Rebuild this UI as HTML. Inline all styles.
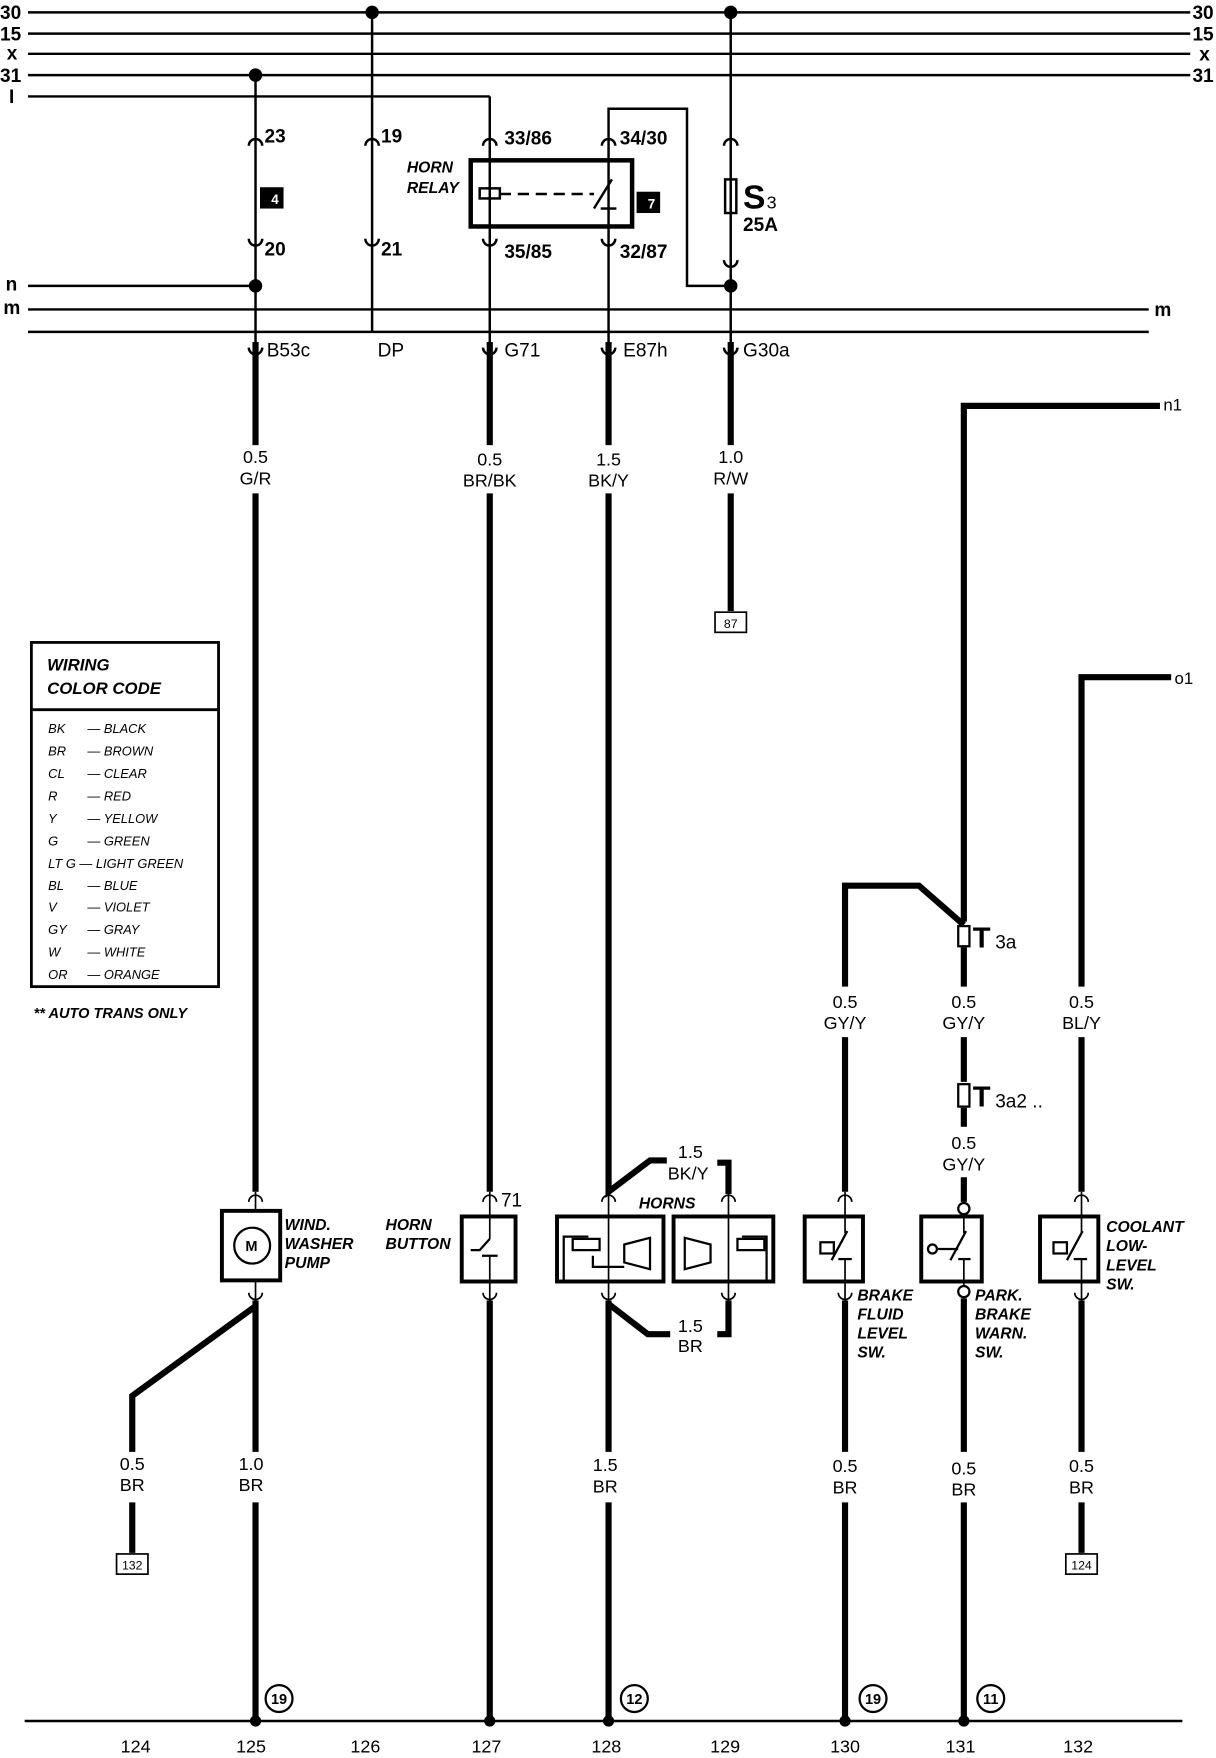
<!DOCTYPE html>
<html><head><meta charset="utf-8"><style>
html,body{margin:0;padding:0;background:#fff;}
svg{display:block;}
text{font-family:"Liberation Sans",Arial,sans-serif;fill:#000;}
.b{font-weight:bold;}
.bi{font-weight:bold;font-style:italic;}
</style></head><body>
<svg width="1216" height="1758" viewBox="0 0 1085 1568" preserveAspectRatio="none" xmlns="http://www.w3.org/2000/svg">
<g stroke="#000" fill="none" stroke-width="2.2">
<line x1="25" y1="11" x2="1062" y2="11"/>
<line x1="25" y1="30" x2="1062" y2="30"/>
<line x1="25" y1="48" x2="1062" y2="48"/>
<line x1="25" y1="67" x2="1062" y2="67"/>
<line x1="25" y1="86" x2="437" y2="86"/>
<line x1="25" y1="255" x2="228" y2="255"/>
<line x1="25" y1="276" x2="1025" y2="276"/>
<line x1="25" y1="296" x2="1025" y2="296"/>
<line x1="22" y1="1535" x2="1055" y2="1535"/>
<line x1="228" y1="67" x2="228" y2="305"/>
<line x1="332" y1="11" x2="332" y2="296"/>
<line x1="437" y1="86" x2="437" y2="305"/>
<polyline points="543,305 543,97 613,97 613,255 652,255"/>
<line x1="652" y1="11" x2="652" y2="305"/>
<path d="M222,130 A6,6 0 0 1 234,130"/><path d="M222,213 A6,6 0 0 0 234,213"/>
<path d="M326,130 A6,6 0 0 1 338,130"/><path d="M326,213 A6,6 0 0 0 338,213"/>
<path d="M431,130 A6,6 0 0 1 443,130"/><path d="M431,213 A6,6 0 0 0 443,213"/>
<path d="M537,130 A6,6 0 0 1 549,130"/><path d="M537,213 A6,6 0 0 0 549,213"/>
<path d="M646,130 A6,6 0 0 1 658,130"/><path d="M646,232 A6,6 0 0 0 658,232"/>
<path d="M222,310 A6,6 0 0 0 234,310"/><path d="M431,310 A6,6 0 0 0 443,310"/><path d="M537,310 A6,6 0 0 0 549,310"/><path d="M646,310 A6,6 0 0 0 658,310"/>
<rect x="420" y="143" width="144" height="59" stroke-width="4"/>
<rect x="428" y="168" width="18" height="9"/>
<line x1="446" y1="173" x2="530" y2="173" stroke-dasharray="10,6"/>
<line x1="530" y1="186" x2="546" y2="160"/>
<line x1="536" y1="186" x2="550" y2="186"/>
<rect x="647" y="160" width="10" height="30"/>
</g>
<g fill="#000">
<circle cx="228" cy="67" r="6"/><circle cx="332" cy="11" r="6"/><circle cx="652" cy="11" r="6"/>
<circle cx="228" cy="255" r="6"/><circle cx="652" cy="255" r="6"/>
<rect x="232" y="167" width="21" height="19"/><rect x="568" y="171" width="21" height="19"/>
</g>
<text x="242" y="182" font-size="12" style="fill:#fff" class="b">4</text>
<text x="578" y="186" font-size="12" style="fill:#fff" class="b">7</text>
<g stroke="#000" fill="none" stroke-width="5.5">
<line x1="228" y1="305" x2="228" y2="397"/><line x1="228" y1="440" x2="228" y2="1063"/>
<line x1="228" y1="1160" x2="228" y2="1295"/><line x1="228" y1="1340" x2="228" y2="1535"/>
<polyline points="228,1165 118,1245 118,1295"/><line x1="118" y1="1340" x2="118" y2="1385"/>
<line x1="437" y1="305" x2="437" y2="397"/><line x1="437" y1="440" x2="437" y2="1063"/>
<line x1="437" y1="1160" x2="437" y2="1535"/>
<line x1="543" y1="305" x2="543" y2="397"/><polyline points="543,440 543,1063 580,1035 595,1035"/>
<polyline points="640,1037 650,1037 650,1065"/>
<polyline points="543,1163 578,1190 598,1190"/><polyline points="650,1160 650,1190 640,1190"/>
<line x1="543" y1="1160" x2="543" y2="1295"/><line x1="543" y1="1340" x2="543" y2="1535"/>
<line x1="652" y1="305" x2="652" y2="397"/><line x1="652" y1="440" x2="652" y2="545"/>
<polyline points="1035,362 860,362 860,822"/>
<polyline points="754,880 754,790 820,790 860,825"/>
<line x1="754" y1="925" x2="754" y2="1063"/>
<line x1="754" y1="1160" x2="754" y2="1295"/><line x1="754" y1="1340" x2="754" y2="1535"/>
<line x1="860" y1="845" x2="860" y2="880"/><line x1="860" y1="925" x2="860" y2="965"/>
<line x1="860" y1="988" x2="860" y2="1005"/><line x1="860" y1="1050" x2="860" y2="1072"/>
<line x1="860" y1="1158" x2="860" y2="1295"/><line x1="860" y1="1340" x2="860" y2="1535"/>
<polyline points="1045,604 965,604 965,880"/><line x1="965" y1="925" x2="965" y2="1063"/>
<line x1="965" y1="1160" x2="965" y2="1295"/><line x1="965" y1="1340" x2="965" y2="1385"/>
</g>
<g fill="#000"><circle cx="228" cy="1535" r="5"/><circle cx="437" cy="1535" r="5"/><circle cx="543" cy="1535" r="5"/><circle cx="754" cy="1535" r="5"/><circle cx="860" cy="1535" r="5"/></g>
<g stroke="#000" fill="none" stroke-width="2">
<g stroke-width="1.5">
<path d="M222,1072 A6,6 0 0 1 234,1072"/><path d="M222,1153 A6,6 0 0 0 234,1153"/>
<path d="M431,1072 A6,6 0 0 1 443,1072"/><path d="M431,1153 A6,6 0 0 0 443,1153"/>
<path d="M537,1072 A6,6 0 0 1 549,1072"/><path d="M537,1153 A6,6 0 0 0 549,1153"/>
<path d="M644,1072 A6,6 0 0 1 656,1072"/><path d="M644,1153 A6,6 0 0 0 656,1153"/>
<path d="M748,1072 A6,6 0 0 1 760,1072"/><path d="M748,1153 A6,6 0 0 0 760,1153"/>
<path d="M959,1072 A6,6 0 0 1 971,1072"/><path d="M959,1153 A6,6 0 0 0 971,1153"/>
<line x1="228" y1="1063" x2="228" y2="1080"/><line x1="228" y1="1143" x2="228" y2="1160"/>
<line x1="437" y1="1063" x2="437" y2="1105"/><line x1="437" y1="1120" x2="437" y2="1160"/>
<line x1="543" y1="1063" x2="543" y2="1160"/><line x1="650" y1="1063" x2="650" y2="1160"/>
<line x1="754" y1="1063" x2="754" y2="1100"/><line x1="754" y1="1123" x2="754" y2="1160"/>
<line x1="860" y1="1084" x2="860" y2="1100"/><line x1="860" y1="1123" x2="860" y2="1147"/>
<line x1="965" y1="1063" x2="965" y2="1100"/><line x1="965" y1="1123" x2="965" y2="1160"/>
</g>
<rect x="198" y="1080" width="52" height="62" stroke-width="3.5"/>
<circle cx="225" cy="1111" r="16"/>
<text x="219" y="1116" font-size="13" class="b" stroke="none">M</text>
<rect x="412" y="1085" width="48" height="58" stroke-width="3.5"/>
<polyline points="420,1115 428,1115 437,1105" /><line x1="430" y1="1120" x2="444" y2="1120"/>
<rect x="497" y="1085" width="95" height="58" stroke-width="3.5"/>
<rect x="601" y="1085" width="89" height="58" stroke-width="3.5"/>
<polyline points="503,1143 503,1103 525,1103"/><rect x="511" y="1105" width="24" height="10"/><polyline points="529,1120 529,1130 557,1130"/>
<polygon points="557,1110 580,1104 580,1132 557,1126"/>
<polygon points="634,1110 611,1104 611,1132 634,1126"/>
<polyline points="684,1143 684,1103 662,1103"/><rect x="658" y="1105" width="24" height="10"/>
<rect x="718" y="1085" width="52" height="58" stroke-width="3.5"/>
<rect x="732" y="1108" width="12" height="10"/><line x1="742" y1="1124" x2="756" y2="1098"/><line x1="748" y1="1123" x2="760" y2="1123"/>
<rect x="822" y="1085" width="54" height="58" stroke-width="3.5"/>
<circle cx="832" cy="1114" r="4"/><line x1="836" y1="1114" x2="855" y2="1114"/><line x1="848" y1="1124" x2="862" y2="1098"/><line x1="855" y1="1123" x2="866" y2="1123"/>
<rect x="928" y="1085" width="52" height="58" stroke-width="3.5"/>
<rect x="940" y="1108" width="12" height="10"/><line x1="952" y1="1124" x2="966" y2="1098"/><line x1="958" y1="1123" x2="970" y2="1123"/>
<circle cx="860" cy="1078" r="5" fill="#fff"/><circle cx="860" cy="1152" r="5" fill="#fff"/>
<rect x="855" y="826" width="10" height="18" fill="#fff"/><rect x="855" y="967" width="10" height="20" fill="#fff"/>
<rect x="638" y="546" width="28" height="18" stroke-width="1.5"/>
<rect x="104" y="1386" width="28" height="18" stroke-width="1.5"/>
<rect x="951" y="1386" width="28" height="18" stroke-width="1.5"/>
<rect x="28" y="573" width="167" height="307" stroke-width="2.5"/>
<line x1="28" y1="633" x2="195" y2="633" stroke-width="2.5"/>
<circle cx="249" cy="1515" r="12"/><circle cx="566" cy="1515" r="12"/><circle cx="779" cy="1515" r="12"/><circle cx="884" cy="1515" r="12"/>
</g>
<g font-size="11" text-anchor="middle">
<text x="652" y="560">87</text><text x="118" y="1400">132</text><text x="965" y="1400">124</text>
</g>
<g font-size="13" class="b" text-anchor="middle">
<text x="249" y="1520">19</text><text x="566" y="1520">12</text><text x="779" y="1520">19</text><text x="884" y="1520">11</text>
</g>
<g font-size="17" class="b">
<text x="0" y="17">30</text><text x="0" y="36">15</text><text x="6" y="53">x</text><text x="0" y="73">31</text><text x="8" y="92">I</text>
<text x="5" y="259">n</text><text x="3" y="280">m</text>
<text x="1064" y="17">30</text><text x="1064" y="36">15</text><text x="1070" y="54">x</text><text x="1064" y="73">31</text>
<text x="1030" y="282" class="b">m</text>
</g>
<g font-size="17">
<text x="236" y="127" class="b">23</text><text x="236" y="228" class="b">20</text>
<text x="340" y="127" class="b">19</text><text x="340" y="228" class="b">21</text>
<text x="450" y="129" class="b">33/86</text><text x="450" y="230" class="b">35/85</text>
<text x="553" y="129" class="b">34/30</text><text x="553" y="230" class="b">32/87</text>
<text x="663" y="186" font-size="30" class="b">S</text><text x="684" y="186" font-size="16">3</text>
<text x="663" y="206" class="b">25A</text>
<text x="238" y="318">B53c</text><text x="337" y="318">DP</text><text x="450" y="318">G71</text><text x="556" y="318">E87h</text><text x="663" y="318">G30a</text>
<text x="1038" y="366" font-size="15">n1</text><text x="1048" y="610" font-size="15">o1</text>
<text x="868" y="845" font-size="26" class="b">T</text><text x="888" y="846">3a</text>
<text x="868" y="987" font-size="26" class="b">T</text><text x="888" y="988">3a2 ..</text>
<text x="447" y="1076">71</text>
</g>
<g font-size="16" text-anchor="middle">
<text x="228" y="413">0.5</text><text x="228" y="432">G/R</text>
<text x="437" y="415">0.5</text><text x="437" y="434">BR/BK</text>
<text x="543" y="415">1.5</text><text x="543" y="434">BK/Y</text>
<text x="652" y="413">1.0</text><text x="652" y="432">R/W</text>
<text x="754" y="899">0.5</text><text x="754" y="918">GY/Y</text>
<text x="860" y="899">0.5</text><text x="860" y="918">GY/Y</text>
<text x="965" y="899">0.5</text><text x="965" y="918">BL/Y</text>
<text x="860" y="1025">0.5</text><text x="860" y="1044">GY/Y</text>
<text x="616" y="1033">1.5</text><text x="614" y="1052">BK/Y</text>
<text x="616" y="1188">1.5</text><text x="616" y="1206">BR</text>
<text x="118" y="1311">0.5</text><text x="118" y="1330">BR</text>
<text x="224" y="1311">1.0</text><text x="224" y="1330">BR</text>
<text x="540" y="1312">1.5</text><text x="540" y="1331">BR</text>
<text x="754" y="1313">0.5</text><text x="754" y="1332">BR</text>
<text x="860" y="1315">0.5</text><text x="860" y="1334">BR</text>
<text x="965" y="1313">0.5</text><text x="965" y="1332">BR</text>
<text x="121" y="1563">124</text><text x="224" y="1563">125</text><text x="326" y="1563">126</text><text x="434" y="1563">127</text><text x="541" y="1563">128</text><text x="647" y="1563">129</text><text x="754" y="1563">130</text><text x="857" y="1563">131</text><text x="962" y="1563">132</text>
</g>
<g font-size="14" class="bi">
<text x="363" y="154">HORN</text><text x="363" y="172">RELAY</text>
<text x="254" y="1097">WIND.</text><text x="254" y="1114">WASHER</text><text x="254" y="1131">PUMP</text>
<text x="344" y="1097">HORN</text><text x="344" y="1114">BUTTON</text>
<text x="570" y="1078">HORNS</text>
<text x="765" y="1160">BRAKE</text><text x="765" y="1177">FLUID</text><text x="765" y="1194">LEVEL</text><text x="765" y="1211">SW.</text>
<text x="870" y="1160">PARK.</text><text x="870" y="1177">BRAKE</text><text x="870" y="1194">WARN.</text><text x="870" y="1211">SW.</text>
<text x="987" y="1099">COOLANT</text><text x="987" y="1116">LOW-</text><text x="987" y="1133">LEVEL</text><text x="987" y="1150">SW.</text>
<text x="42" y="598" font-size="15">WIRING</text><text x="42" y="619" font-size="15">COLOR CODE</text>
<text x="30" y="908" font-size="13">** AUTO TRANS ONLY</text>
</g>
<g font-size="11.5" font-style="italic">
<text x="43" y="654">BK</text><text x="78" y="654">— BLACK</text>
<text x="43" y="674">BR</text><text x="78" y="674">— BROWN</text>
<text x="43" y="694">CL</text><text x="78" y="694">— CLEAR</text>
<text x="43" y="714">R</text><text x="78" y="714">— RED</text>
<text x="43" y="734">Y</text><text x="78" y="734">— YELLOW</text>
<text x="43" y="754">G</text><text x="78" y="754">— GREEN</text>
<text x="43" y="774">LT G — LIGHT GREEN</text>
<text x="43" y="794">BL</text><text x="78" y="794">— BLUE</text>
<text x="43" y="813">V</text><text x="78" y="813">— VIOLET</text>
<text x="43" y="833">GY</text><text x="78" y="833">— GRAY</text>
<text x="43" y="853">W</text><text x="78" y="853">— WHITE</text>
<text x="43" y="873">OR</text><text x="78" y="873">— ORANGE</text>
</g>
</svg>
</body></html>
